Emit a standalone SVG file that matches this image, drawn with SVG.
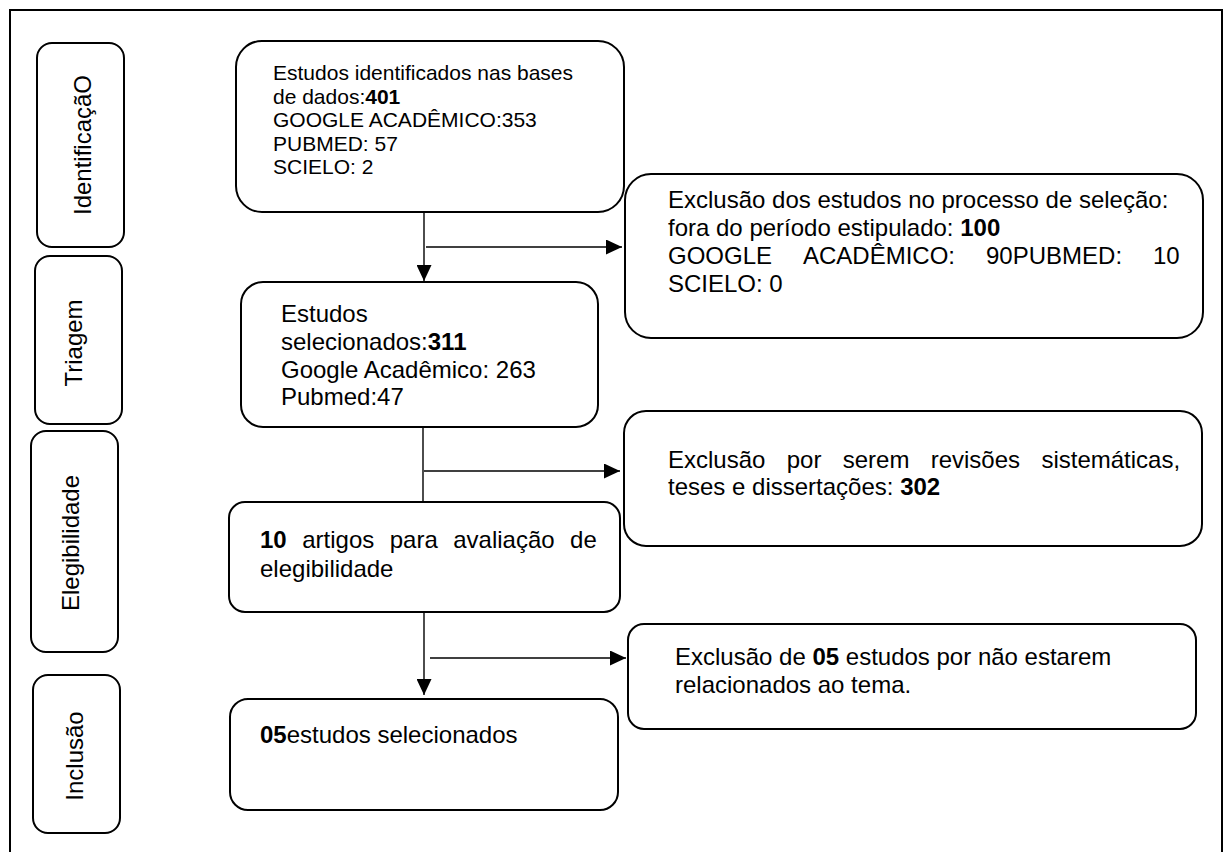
<svg xmlns="http://www.w3.org/2000/svg" width="1232" height="852" viewBox="0 0 1232 852">
<style>
.box{fill:#fff;stroke:#000;stroke-width:2}
.frame{fill:none;stroke:#000;stroke-width:2}
.t{font-family:"Liberation Sans",Arial,sans-serif;font-size:24px;fill:#000}
.t21{font-family:"Liberation Sans",Arial,sans-serif;font-size:21px;fill:#000}
.b{font-weight:bold}
.lbl{font-family:"Liberation Sans",Arial,sans-serif;font-size:24px;fill:#000;text-anchor:middle}
.c{stroke:#000;stroke-width:1.4;fill:none}
</style>
<defs>
<marker id="ah" markerUnits="userSpaceOnUse" markerWidth="16" markerHeight="15" refX="16" refY="7.5" orient="auto">
<path d="M0,0 L16,7.5 L0,15 z" fill="#000"/>
</marker>
</defs>
<rect x="0" y="0" width="1232" height="852" fill="#fff"/>
<rect class="frame" x="10" y="10" width="1212" height="870"/>

<g id="lbl-identificacao">
<rect class="box" x="37" y="43" width="87" height="204" rx="15"/>
<text class="lbl" transform="translate(91,145) rotate(-90)">IdentificaçãO</text>
</g>
<g id="lbl-triagem">
<rect class="box" x="35" y="256" width="87" height="168" rx="15"/>
<text class="lbl" transform="translate(82,343) rotate(-90)">Triagem</text>
</g>
<g id="lbl-elegibilidade">
<rect class="box" x="31" y="431" width="87" height="221" rx="15"/>
<text class="lbl" transform="translate(79,543) rotate(-90)">Elegibilidade</text>
</g>
<g id="lbl-inclusao">
<rect class="box" x="33" y="675" width="87" height="158" rx="15"/>
<text class="lbl" transform="translate(83,756) rotate(-90)">Inclusão</text>
</g>

<g id="connectors">
<line class="c" x1="424" y1="212" x2="424" y2="281" marker-end="url(#ah)"/>
<line class="c" x1="426" y1="247" x2="622" y2="247" marker-end="url(#ah)"/>
<line class="c" x1="423" y1="427" x2="423" y2="517" marker-end="url(#ah)"/>
<line class="c" x1="424" y1="471" x2="620" y2="471" marker-end="url(#ah)"/>
<line class="c" x1="424" y1="612" x2="424" y2="695" marker-end="url(#ah)"/>
<line class="c" x1="430" y1="658" x2="626" y2="658" marker-end="url(#ah)"/>
</g>

<g id="n-identificados">
<rect class="box" x="236" y="41" width="388" height="171" rx="26"/>
<text class="t21" x="273" y="80">Estudos identificados nas bases</text>
<text class="t21" x="273" y="103.5">de dados:<tspan class="b">401</tspan></text>
<text class="t21" x="273" y="127">GOOGLE ACADÊMICO:353</text>
<text class="t21" x="273" y="150.5">PUBMED: 57</text>
<text class="t21" x="273" y="174">SCIELO: 2</text>
</g>

<g id="n-excl1">
<rect class="box" x="625" y="174" width="578" height="164" rx="26"/>
<text class="t" x="668" y="208">Exclusão dos estudos no processo de seleção:</text>
<text class="t" x="668" y="236">fora do período estipulado: <tspan class="b">100</tspan></text>
<text class="t" y="264"><tspan x="668">GOOGLE</tspan><tspan x="803">ACADÊMICO:</tspan><tspan x="986">90PUBMED:</tspan><tspan x="1153">10</tspan></text>
<text class="t" x="668" y="292">SCIELO: 0</text>
</g>

<g id="n-selecionados">
<rect class="box" x="241" y="282" width="357" height="145" rx="22"/>
<text class="t" x="281" y="322">Estudos</text>
<text class="t" x="281" y="350">selecionados:<tspan class="b">311</tspan></text>
<text class="t" x="281" y="378">Google Acadêmico: 263</text>
<text class="t" x="281" y="405">Pubmed:47</text>
</g>

<g id="n-excl2">
<rect class="box" x="624" y="411" width="578" height="135" rx="22"/>
<text class="t" y="468"><tspan x="668">Exclusão</tspan><tspan x="786.7">por</tspan><tspan x="842.7">serem</tspan><tspan x="930.7">revisões</tspan><tspan x="1041.4">sistemáticas,</tspan></text>
<text class="t" x="668" y="495">teses e dissertações: <tspan class="b">302</tspan></text>
</g>

<g id="n-elegibilidade">
<rect class="box" x="229" y="502" width="391" height="110" rx="16"/>
<text class="t" y="548"><tspan x="260" class="b">10</tspan><tspan x="302.2">artigos</tspan><tspan x="389.7">para</tspan><tspan x="453.2">avaliação</tspan><tspan x="570.1">de</tspan></text>
<text class="t" x="260" y="577">elegibilidade</text>
</g>

<g id="n-excl3">
<rect class="box" x="628" y="624" width="568" height="105" rx="16"/>
<text class="t" x="675" y="665">Exclusão de <tspan class="b">05</tspan> estudos por não estarem</text>
<text class="t" x="675" y="693">relacionados ao tema.</text>
</g>

<g id="n-inclusao">
<rect class="box" x="230" y="699" width="388" height="111" rx="18"/>
<text class="t" x="260" y="743"><tspan class="b">05</tspan>estudos selecionados</text>
</g>
</svg>
